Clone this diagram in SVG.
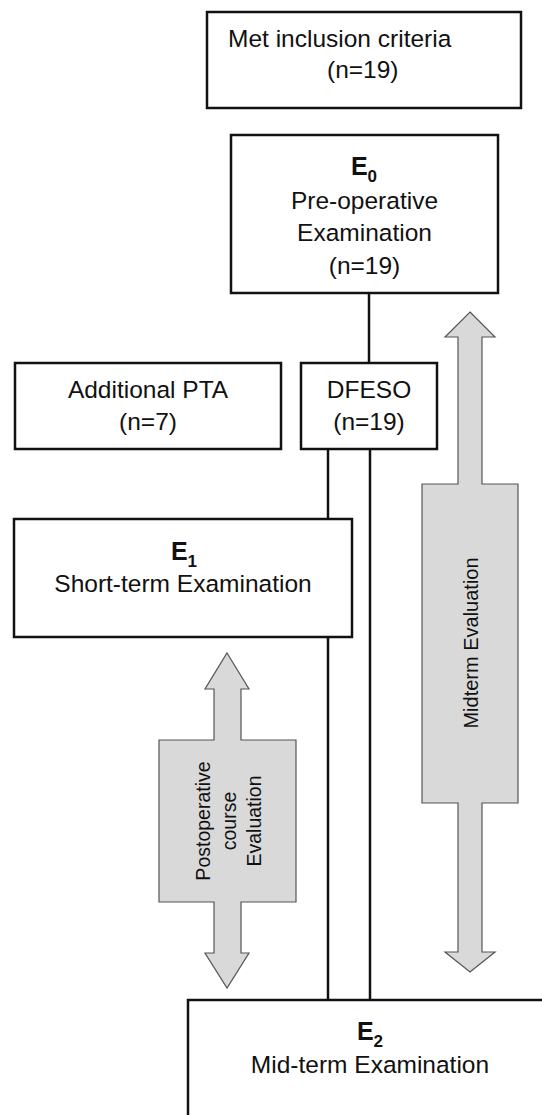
<svg xmlns="http://www.w3.org/2000/svg" width="542" height="1115" viewBox="0 0 542 1115">
<style>
.box{fill:#fff;stroke:#111;stroke-width:2.5}
.ln{fill:none;stroke:#111;stroke-width:2.5}
.arr{fill:#d9d9d9;stroke:#555;stroke-width:1.2;stroke-linejoin:miter}
text{font-family:"Liberation Sans",Arial,sans-serif;font-size:24.5px;fill:#111}
.c{text-anchor:middle}
.b{font-weight:bold;font-size:25px}
.sub{font-size:17px;font-weight:bold}
.r{font-size:19.5px;text-anchor:middle}
</style>
<rect width="542" height="1115" fill="#fff"/>
<g id="connectors">
<line class="ln" x1="369" y1="293" x2="369" y2="363"/>
<line class="ln" x1="328" y1="449" x2="328" y2="519"/>
<line class="ln" x1="328" y1="637" x2="328" y2="1000"/>
<line class="ln" x1="370" y1="449" x2="370" y2="1000"/>
</g>
<g id="n-inclusion">
<rect class="box" x="207" y="12" width="314" height="96"/>
<text x="228" y="47">Met inclusion criteria</text>
<text x="327" y="78">(n=19)</text>
</g>
<g id="n-e0">
<rect class="box" x="231" y="135" width="267" height="158"/>
<text class="c b" x="364" y="175">E<tspan class="sub" dy="7">0</tspan></text>
<text class="c" x="364.5" y="209">Pre-operative</text>
<text class="c" x="364.5" y="241">Examination</text>
<text class="c" x="364.5" y="274">(n=19)</text>
</g>
<g id="n-pta">
<rect class="box" x="15" y="363" width="266" height="86"/>
<text class="c" x="148" y="398">Additional PTA</text>
<text class="c" x="148" y="430">(n=7)</text>
</g>
<g id="n-dfeso">
<rect class="box" x="301" y="363" width="136" height="86"/>
<text class="c" x="369" y="398">DFESO</text>
<text class="c" x="369" y="430">(n=19)</text>
</g>
<g id="n-e1">
<rect class="box" x="14" y="519" width="338" height="118"/>
<text class="c b" x="184" y="560">E<tspan class="sub" dy="7">1</tspan></text>
<text class="c" x="183" y="592">Short-term Examination</text>
</g>
<g id="n-e2">
<rect class="box" x="188" y="1000" width="400" height="200"/>
<text class="c b" x="370" y="1040">E<tspan class="sub" dy="7">2</tspan></text>
<text class="c" x="370" y="1073">Mid-term Examination</text>
</g>
<g id="a-postop">
<path class="arr" d="M227,653 L249,689 L241,689 L241,740 L296,740 L296,902 L241,902 L241,953 L249,953 L227,988 L205,953 L214,953 L214,902 L159,902 L159,740 L214,740 L214,689 L205,689 Z"/>
<g transform="translate(0,821) rotate(-90)">
<text class="r" x="0" y="210">Postoperative</text>
<text class="r" x="0" y="236">course</text>
<text class="r" x="0" y="261">Evaluation</text>
</g>
</g>
<g id="a-midterm">
<path class="arr" d="M470,312 L495,337 L482,337 L482,484 L518,484 L518,803 L482,803 L482,952 L495,952 L470,972 L445,952 L458,952 L458,803 L422,803 L422,484 L458,484 L458,337 L445,337 Z"/>
<g transform="translate(0,643) rotate(-90)">
<text class="r" x="0" y="478" style="font-size:20px">Midterm Evaluation</text>
</g>
</g>
</svg>
